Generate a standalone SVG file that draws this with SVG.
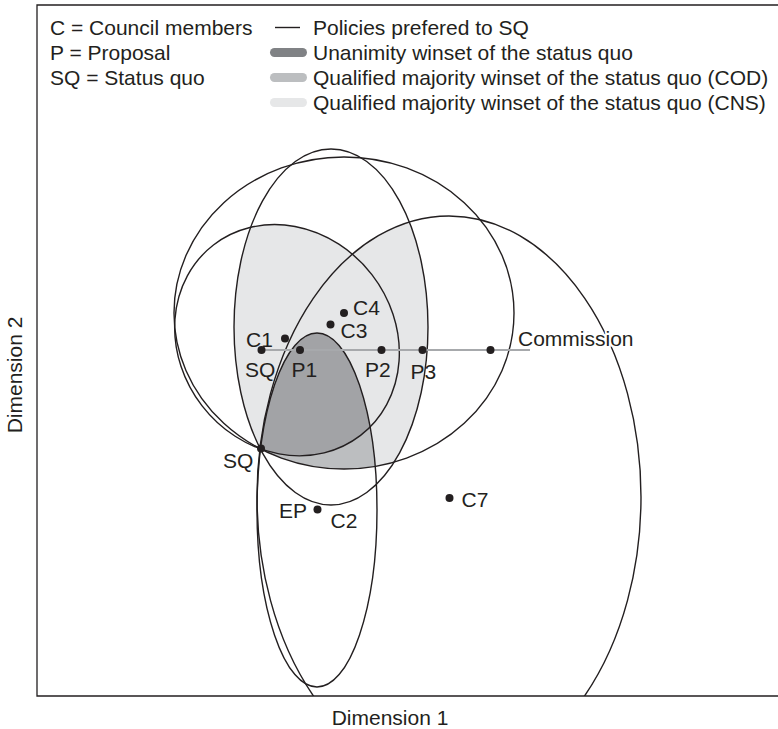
<svg xmlns="http://www.w3.org/2000/svg" width="778" height="729" viewBox="0 0 778 729">
<style>
  text { font-family: "Liberation Sans", Arial, sans-serif; font-size: 21px; fill: #231f20; }
  .curve { fill: none; stroke: #231f20; stroke-width: 1.4; }
  .frame { fill: none; stroke: #231f20; stroke-width: 1.3; }
  .dot { fill: #231f20; }
  .halo { stroke: #ffffff; stroke-width: 4; paint-order: stroke; stroke-linejoin: round; }
</style>
<defs>
  <!-- indifference curves through the status quo -->
  <ellipse id="eA" cx="0" cy="0" rx="120.3" ry="107.3" transform="translate(287,340.2) rotate(52.3)"/>
  <ellipse id="eB" cx="331" cy="327" rx="97" ry="178"/>
  <ellipse id="eC4" cx="344" cy="313" rx="170" ry="156"/>
  <ellipse id="eD" cx="317" cy="510" rx="60" ry="177"/>
  <ellipse id="eE" cx="449" cy="497" rx="192" ry="281"/>
  <clipPath id="cA"><use href="#eA"/></clipPath>
  <clipPath id="cB"><use href="#eB"/></clipPath>
  <clipPath id="cC4"><use href="#eC4"/></clipPath>
  <clipPath id="cD"><use href="#eD"/></clipPath>
  <clipPath id="cE"><use href="#eE"/></clipPath>
  <clipPath id="plot"><rect x="37" y="5" width="741" height="691"/></clipPath>
</defs>

<rect x="0" y="0" width="778" height="729" fill="#ffffff"/>

<!-- legend -->
<g id="legend">
  <text x="50" y="35">C = Council members</text>
  <text x="50" y="60">P = Proposal</text>
  <text x="50" y="85">SQ = Status quo</text>
  <line x1="275" y1="27.5" x2="300" y2="27.5" stroke="#231f20" stroke-width="1.4"/>
  <rect x="270" y="48" width="37" height="9" rx="4.5" fill="#808285"/>
  <rect x="270" y="73" width="37" height="9" rx="4.5" fill="#bcbec0"/>
  <rect x="270" y="98" width="37" height="9" rx="4.5" fill="#e6e7e8"/>
  <text x="313" y="35">Policies prefered to SQ</text>
  <text x="313" y="60">Unanimity winset of the status quo</text>
  <text x="313" y="85">Qualified majority winset of the status quo (COD)</text>
  <text x="313" y="110">Qualified majority winset of the status quo (CNS)</text>
</g>

<!-- winsets -->
<g id="winset-cns" clip-path="url(#cB)">
  <g clip-path="url(#cC4)">
    <use href="#eA" fill="#e6e7e8"/>
    <use href="#eE" fill="#e6e7e8"/>
  </g>
</g>
<g id="winset-cod" clip-path="url(#cD)">
  <g clip-path="url(#cE)">
    <use href="#eC4" fill="#bcbec0"/>
  </g>
</g>
<g id="winset-unanimity" clip-path="url(#cD)">
  <g clip-path="url(#cE)">
    <use href="#eA" fill="#a2a3a6"/>
  </g>
</g>

<!-- preference curves -->
<g id="curves" clip-path="url(#plot)">
  <use href="#eA" class="curve" stroke-width="1.5"/>
  <use href="#eB" class="curve" stroke-width="1.6"/>
  <use href="#eC4" class="curve" stroke-width="1.3"/>
  <use href="#eD" class="curve" stroke-width="1.6"/>
  <use href="#eE" class="curve" stroke-width="1.2"/>
</g>

<!-- frame and axis titles -->
<path class="frame" d="M778,5 H37 V696 H778"/>
<text x="390" y="725" text-anchor="middle">Dimension 1</text>
<text transform="translate(22,375) rotate(-90)" text-anchor="middle">Dimension 2</text>

<!-- proposals on the line from SQ to the Commission -->
<g id="connectors">
  <line x1="261" y1="350" x2="530" y2="350" stroke="#a7a9ac" stroke-width="2"/>
</g>

<g id="sq-top"><circle class="dot" cx="261.5" cy="350" r="4"/><text x="245" y="377">SQ</text></g>
<g id="p1"><circle class="dot" cx="300" cy="350" r="4"/><text x="291.5" y="377">P1</text></g>
<g id="p2"><circle class="dot" cx="381.5" cy="350" r="4"/><text x="365" y="377">P2</text></g>
<g id="p3"><circle class="dot" cx="422.5" cy="350" r="4"/><text x="410.5" y="379">P3</text></g>
<g id="commission"><circle class="dot" cx="490.5" cy="350" r="4"/><text class="halo" x="518" y="346">Commission</text></g>
<g id="c1"><circle class="dot" cx="285" cy="338.5" r="4"/><text x="246" y="347">C1</text></g>
<g id="c3"><circle class="dot" cx="330.5" cy="324.5" r="4"/><text x="340.5" y="338">C3</text></g>
<g id="c4"><circle class="dot" cx="344" cy="313" r="4"/><text x="353" y="315">C4</text></g>
<g id="sq"><circle class="dot" cx="261" cy="448.5" r="4"/><text x="223" y="468">SQ</text></g>
<g id="ep-c2"><circle class="dot" cx="317.5" cy="509.5" r="4"/><text x="279" y="518">EP</text><text x="330.5" y="528">C2</text></g>
<g id="c7"><circle class="dot" cx="449.5" cy="498" r="4"/><text x="461.5" y="506.5">C7</text></g>
</svg>
